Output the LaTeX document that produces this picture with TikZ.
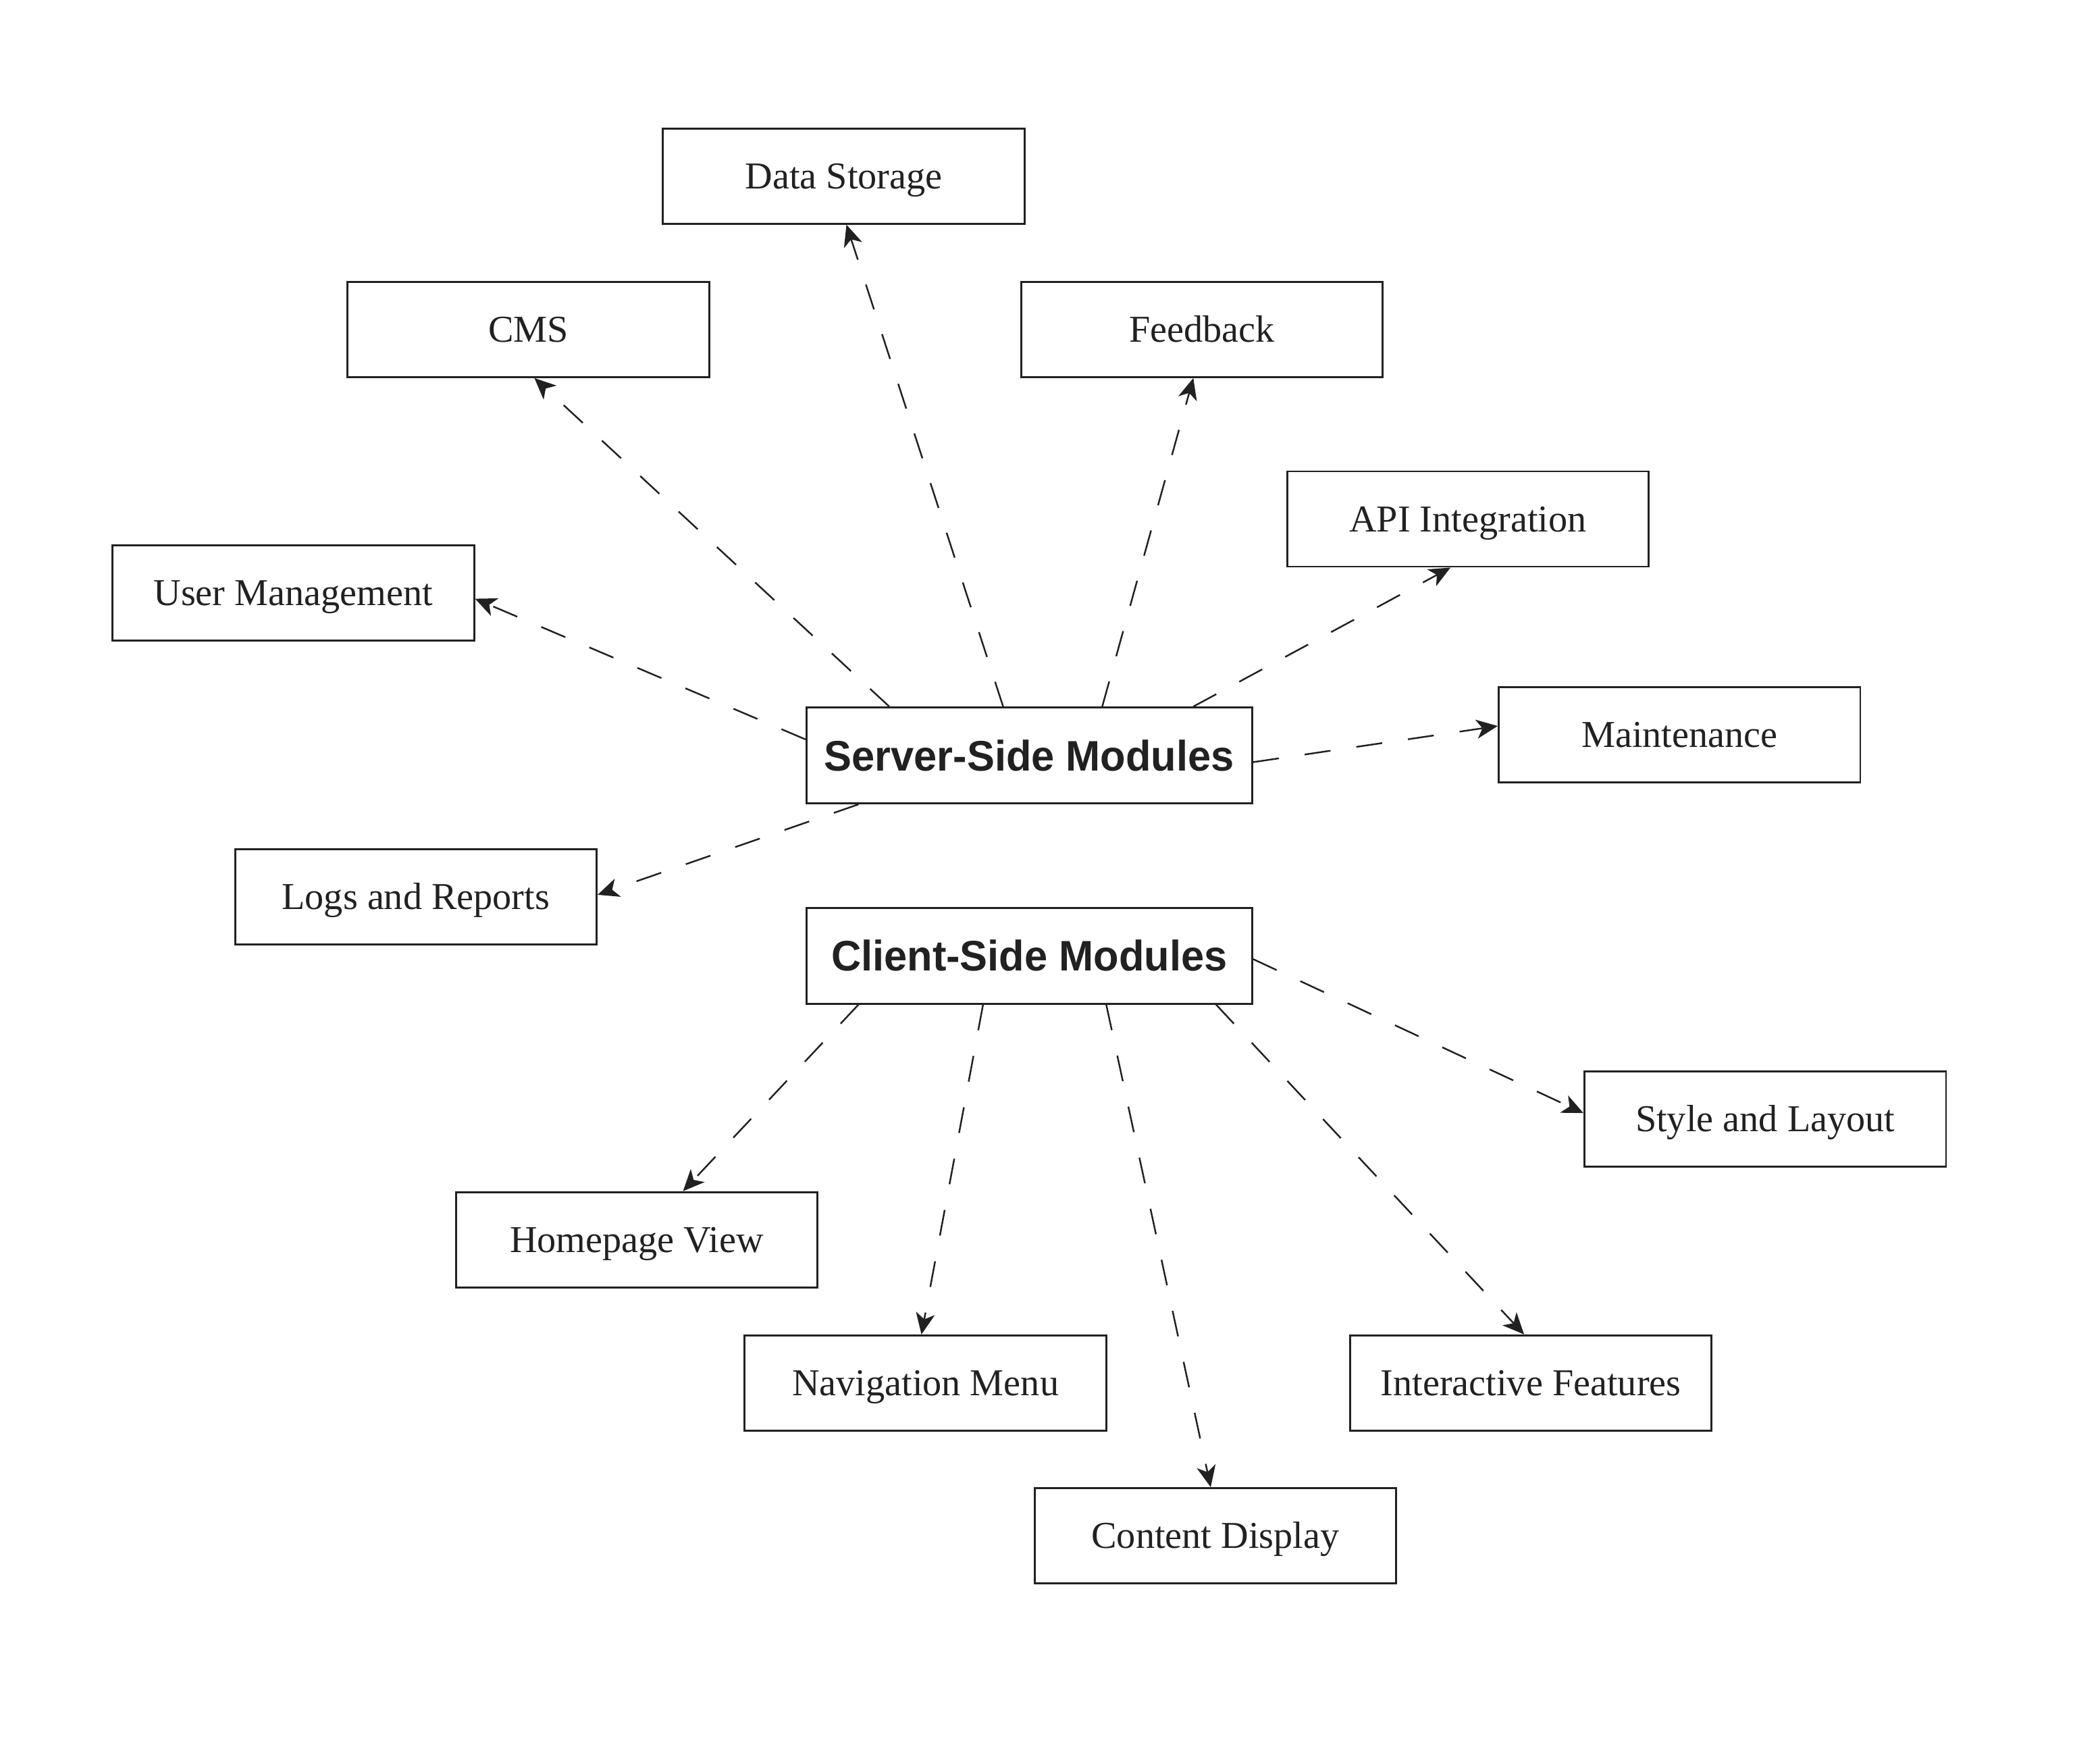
\documentclass[tikz,border=0pt]{standalone}
\usepackage{fontspec}
\setmainfont{Liberation Serif}
\newfontfamily\hubfont[FakeStretch=0.97]{Liberation Sans}
\usetikzlibrary{arrows.meta,calc}
\tikzset{
  leaf/.style={draw=black!87,line width=0.8pt,minimum width=5.355cm,minimum height=1.41cm,
    inner sep=0pt,text=black!87,text height=10.6pt,text depth=0pt,
    font=\fontsize{16}{19}\selectfont},
  hub/.style={leaf,minimum width=6.6cm,minimum height=1.42cm,text height=12.9pt,
    font=\hubfont\bfseries\fontsize{18}{21}\selectfont},
  dep/.style={draw=black!87,line width=0.7pt,dash pattern=on 11pt off 11pt,
    -{Stealth[length=9pt,width=8pt,inset=2.5pt]}}
}
\begin{document}
\begin{tikzpicture}[x=0.019834cm,y=-0.019834cm]
\useasboundingbox (0,0) rectangle (1568,1298);
% hubs
\node[hub] (srv) at (768.5,564) {Server-Side Modules};
\node[hub] (cli) at (768.5,713.5) {Client-Side Modules};
% server side
\node[leaf] (ds) at (630,131.5) {Data Storage};
\node[leaf] (cms) at (394.5,246) {CMS};
\node[leaf] (fb) at (897.5,246) {Feedback};
\node[leaf] (api) at (1096,387.5) {API Integration};
\node[leaf] (um) at (219,442.5) {User Management};
\node[leaf] (mnt) at (1254,548.5) {Maintenance};
\node[leaf] (logs) at (310.5,669.5) {Logs and Reports};
% client side
\node[leaf] (sty) at (1318,835.5) {Style and Layout};
\node[leaf] (hp) at (475.5,925.5) {Homepage View};
\node[leaf] (nav) at (691,1032.5) {Navigation Menu};
\node[leaf] (feat) at (1143,1032.5) {Interactive Features};
\node[leaf] (cd) at (907.5,1146.5) {Content Display};

\draw[dep] ($(srv.north)+(-19.5,0)$) -- ($(ds.south)+(2,0)$);
\draw[dep] ($(srv.north)+(-104.5,0)$) -- ($(cms.south)+(4.5,0)$);
\draw[dep] ($(srv.north)+(54.5,0)$) -- ($(fb.south)+(-6.5,0)$);
\draw[dep] ($(srv.north)+(122.5,0)$) -- ($(api.south)+(-13,0)$);
\draw[dep] ($(srv.west)+(0,-12)$) -- ($(um.east)+(0,4.5)$);
\draw[dep] ($(srv.east)+(0,5)$) -- ($(mnt.west)+(0,-6.5)$);
\draw[dep] ($(srv.south)+(-127.5,0)$) -- ($(logs.east)+(0,-1.5)$);

\draw[dep] ($(cli.east)+(0,2.5)$) -- ($(sty.west)+(0,-4.5)$);
\draw[dep] ($(cli.south)+(-127.5,0)$) -- ($(hp.north)+(34.5,0)$);
\draw[dep] ($(cli.south)+(-34.5,0)$) -- ($(nav.north)+(-3,0)$);
\draw[dep] ($(cli.south)+(57.5,0)$) -- ($(cd.north)+(-3.5,0)$);
\draw[dep] ($(cli.south)+(139.5,0)$) -- ($(feat.north)+(-5,0)$);
\end{tikzpicture}
\end{document}
